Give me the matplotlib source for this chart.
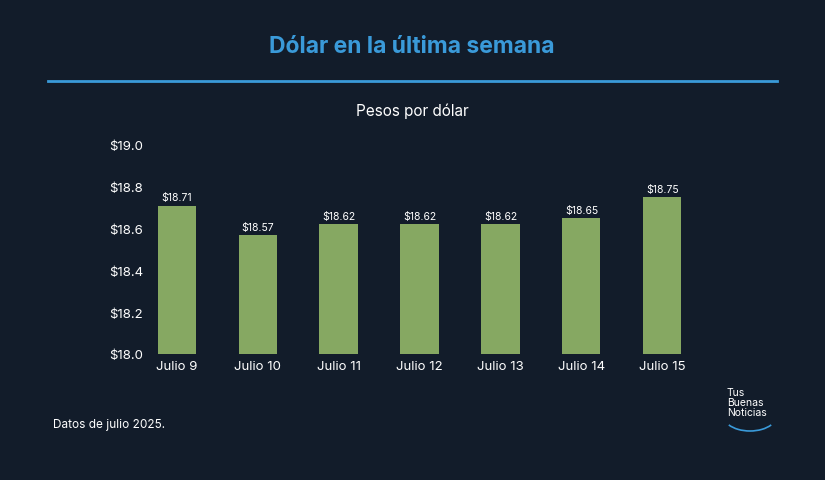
import matplotlib
matplotlib.use("Agg")
import matplotlib.pyplot as plt
from matplotlib.patches import Arc

categories = ["Julio 9", "Julio 10", "Julio 11", "Julio 12", "Julio 13", "Julio 14", "Julio 15"]
values = [18.71, 18.57, 18.62, 18.62, 18.62, 18.65, 18.75]
yticks = [18.0, 18.2, 18.4, 18.6, 18.8, 19.0]

BG = "#121c2a"
W, H = 825, 481
fig = plt.figure(figsize=(W/100, H/100), dpi=100, facecolor=BG)
plt.rcParams["font.family"] = ["Inter", "DejaVu Sans"]

fig.text(412/W, 1-47/H, "Dólar en la última semana", color="#3a9ad9", fontsize=16.5,
         fontweight="bold", ha="center", va="center")
fig.add_artist(plt.Line2D([48/W, 777/W], [1-82/H, 1-82/H], color="#3a9ad9", lw=2))
fig.text(412/W, 1-111/H, "Pesos por dólar", color="white", fontsize=11, ha="center", va="center")
fig.text(53/W, 1-425/H, "Datos de julio 2025.", color="white", fontsize=8.5, ha="left", va="center")
fig.text(727/W, 1-403/H, "Tus\nBuenas\nNoticias", color="white", fontsize=7.5,
         ha="left", va="center", linespacing=0.95)

left, right = 128, 711
bottom, top = 355, 146
ax = fig.add_axes([left/W, 1-bottom/H, (right-left)/W, (bottom-top)/H])
ax.set_facecolor(BG)
x = range(len(categories))
ax.bar(x, values, width=0.47, color="#86a862", bottom=0)
ax.set_ylim(18.0, 19.0)
ax.set_xlim(-0.6, 6.6)
ax.set_yticks(yticks)
ax.set_yticklabels([f"${v:.1f}" for v in yticks])
ax.set_xticks(list(x))
ax.set_xticklabels(categories)
ax.tick_params(colors="white", length=0, labelsize=9.5, pad=4)
ax.tick_params(axis="y", pad=-11)
for s in ax.spines.values():
    s.set_visible(False)
for i, v in enumerate(values):
    ax.text(i, v + 0.015, f"${v:.2f}", color="white", fontsize=7.5, ha="center", va="bottom")

lax = fig.add_axes([0, 0, 1, 1], facecolor="none")
lax.set_xlim(0, W); lax.set_ylim(H, 0); lax.axis("off")
lax.add_patch(Arc((750, 416), 54, 32, theta1=25, theta2=155, color="#3a9ad9", lw=1.2))

fig.savefig("out.png", dpi=100, facecolor=BG)
